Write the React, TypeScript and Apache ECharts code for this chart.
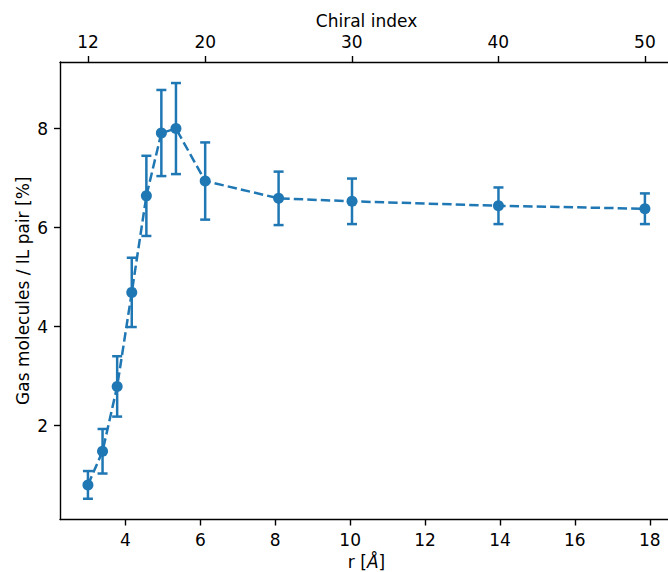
import React, { useEffect, useRef } from "react";
import * as echarts from "echarts";

// Chiral index of each nanotube (top axis) and its radius r [Å] (bottom axis)
const chiralIndex = [12, 13, 14, 15, 16, 17, 18, 20, 25, 30, 40, 50];
const radius = [3.0, 3.39, 3.78, 4.17, 4.56, 4.96, 5.35, 6.13, 8.09, 10.05, 13.96, 17.87];
// Gas molecules per IL pair [%] and its error bar half-width
const gasPerPair = [0.8, 1.48, 2.79, 4.69, 6.64, 7.91, 8.0, 6.94, 6.59, 6.53, 6.44, 6.38];
const errorHalf = [0.28, 0.45, 0.61, 0.7, 0.81, 0.87, 0.92, 0.78, 0.54, 0.46, 0.37, 0.31];

const rTicks = [4, 6, 8, 10, 12, 14, 16, 18];
const chiralTicks = [12, 20, 30, 40, 50];
const yTicks = [2, 4, 6, 8];

const X_MIN = 2.254;
const X_MAX = 18.62;
const Y_MIN = 0.101;
const Y_MAX = 9.345;

// linear relation r = a*n + b between the two x axes (from the tick positions)
const A = (radius[11] - radius[0]) / (chiralIndex[11] - chiralIndex[0]);
const B = radius[0] - A * chiralIndex[0];
const toN = (r: number) => (r - B) / A;

const BLUE = "#1f77b4";
const FONT = "DejaVu Sans";
const FS = 17;

export default function App() {
  const ref = useRef<HTMLDivElement>(null);
  useEffect(() => {
    if (!ref.current) return;
    const chart = echarts.init(ref.current, null, { renderer: "svg" });
    const lineData = radius.map((r, i) => [r, gasPerPair[i]]);
    const errData = radius.map((r, i) => [r, gasPerPair[i] - errorHalf[i], gasPerPair[i] + errorHalf[i]]);
    const axisCommon = {
      axisLine: { show: true, onZero: false, lineStyle: { color: "#000", width: 1.4 } },
      axisTick: { show: true, length: 6, lineStyle: { color: "#000", width: 1.4 } },
      splitLine: { show: false },
    };
    const labelStyle = { color: "#000", fontFamily: FONT, fontSize: FS };
    chart.setOption({
      animation: false,
      backgroundColor: "#fff",
      grid: {
        left: 60,
        top: 62,
        width: 613,
        height: 457.5,
        containLabel: false,
        outerBoundsMode: "none",
      },
      xAxis: [
        {
          type: "value",
          position: "bottom",
          min: X_MIN,
          max: X_MAX,
          ...axisCommon,
          axisTick: { ...axisCommon.axisTick, customValues: rTicks },
          axisLabel: { customValues: rTicks, margin: 12, ...labelStyle },
          name: "r [{i|Å}]",
          nameLocation: "middle",
          nameGap: 34,
          nameMoveOverlap: false,
          nameTextStyle: {
            ...labelStyle,
            rich: { i: { fontStyle: "italic", fontFamily: FONT, fontSize: FS, color: "#000" } },
          },
        },
        {
          type: "value",
          position: "top",
          min: toN(X_MIN),
          max: toN(X_MAX),
          ...axisCommon,
          axisTick: { ...axisCommon.axisTick, customValues: chiralTicks },
          axisLabel: { customValues: chiralTicks, margin: 12, ...labelStyle },
          name: "Chiral index",
          nameLocation: "middle",
          nameGap: 33,
          nameMoveOverlap: false,
          nameTextStyle: labelStyle,
        },
      ],
      yAxis: {
        type: "value",
        min: Y_MIN,
        max: Y_MAX,
        ...axisCommon,
        axisTick: { ...axisCommon.axisTick, customValues: yTicks },
        axisLabel: { customValues: yTicks, margin: 12, ...labelStyle },
        name: "Gas molecules / IL pair [%]",
        nameLocation: "middle",
        nameGap: 29,
        nameRotate: 90,
        nameMoveOverlap: false,
        nameTextStyle: labelStyle,
      },
      series: [
        {
          type: "line",
          xAxisIndex: 0,
          data: lineData,
          symbol: "none",
          lineStyle: { color: BLUE, width: 2.5, type: [9.4, 4.1] },
          z: 2,
        },
        {
          type: "custom",
          xAxisIndex: 0,
          data: errData,
          z: 3,
          renderItem: (params: any, api: any) => {
            const x = api.value(0);
            const top = api.coord([x, api.value(2)]);
            const bot = api.coord([x, api.value(1)]);
            const cap = 5;
            const style = { stroke: BLUE, lineWidth: 2.5 };
            return {
              type: "group",
              children: [
                { type: "line", shape: { x1: top[0], y1: top[1], x2: bot[0], y2: bot[1] }, style },
                { type: "line", shape: { x1: top[0] - cap, y1: top[1], x2: top[0] + cap, y2: top[1] }, style },
                { type: "line", shape: { x1: bot[0] - cap, y1: bot[1], x2: bot[0] + cap, y2: bot[1] }, style },
              ],
            };
          },
        },
        {
          type: "scatter",
          xAxisIndex: 0,
          data: lineData,
          symbol: "circle",
          symbolSize: 11,
          itemStyle: { color: BLUE, opacity: 1 },
          z: 4,
        },
      ],
    });
    return () => chart.dispose();
  }, []);
  return (
    <div
      ref={ref}
      style={{ position: "absolute", left: 0, top: 0, width: 668, height: 572, background: "#fff" }}
    />
  );
}
